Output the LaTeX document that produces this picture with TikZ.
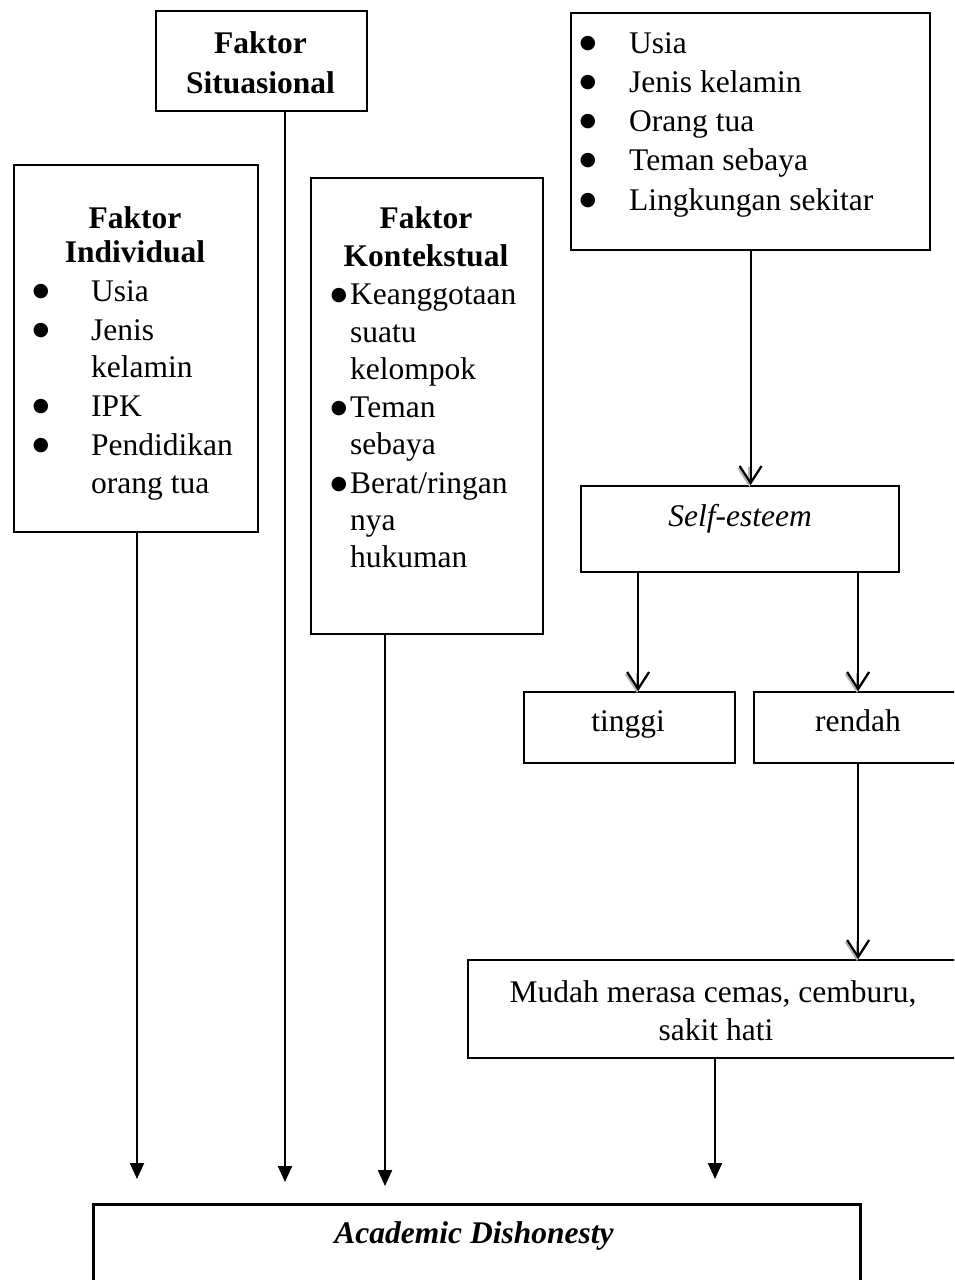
\documentclass[tikz,border=0pt]{standalone}
\usepackage{fontspec}
\setmainfont{Liberation Serif}
\newfontfamily\bulfont{DejaVu Sans}
\usetikzlibrary{arrows.meta}
\begin{document}
\begin{tikzpicture}[x=1pt,y=-1pt,
  box/.style={draw,line width=2.2pt,inner sep=0pt,anchor=north west},
  txt/.style={inner sep=0pt,font=\fontsize{31.5}{38}\selectfont},
  bul/.style={inner sep=0pt,anchor=center,font=\bulfont\fontsize{19}{20}\selectfont},
  conn/.style={line width=2.2pt},
  filltip/.style={conn,-{Triangle[length=16pt,width=14pt]}},
  opentip/.style={conn,-{Straight Barb[length=17pt,width=22pt]}},
  shadowtip/.style={opentip,black!30,transform canvas={shift={(-1.2pt,-2pt)}}}]
\useasboundingbox (0,0) rectangle (954,1280);
\clip (0,0) rectangle (954,1280);
% boxes
\node[box,minimum width=211pt,minimum height=100pt] (sit) at (155,10) {};
\node[box,minimum width=244pt,minimum height=367pt] (ind) at (13,164) {};
\node[box,minimum width=232pt,minimum height=456pt] (kon) at (310,177) {};
\node[box,minimum width=359pt,minimum height=237pt] (tr) at (570,12) {};
\node[box,minimum width=318pt,minimum height=86pt] (se) at (580,485) {};
\node[box,minimum width=211pt,minimum height=71pt] (ti) at (523,691) {};
\node[box,minimum width=215pt,minimum height=71pt] (re) at (753,691) {};
\node[box,minimum width=500pt,minimum height=98pt] (mu) at (467,959) {};
\node[box,line width=2.6pt,minimum width=767pt,minimum height=120pt] (ad) at (92,1203) {};
% texts
\node[txt,anchor=base,font=\fontsize{31.5}{38}\selectfont\bfseries] (sit1) at (260.5,53) {Faktor};
\node[txt,anchor=base,font=\fontsize{31.5}{38}\selectfont\bfseries] (sit2) at (260.5,93) {Situasional};
\node[txt,anchor=base,font=\fontsize{31.5}{38}\selectfont\bfseries] (ind1) at (135,228) {Faktor};
\node[txt,anchor=base,font=\fontsize{31.5}{38}\selectfont\bfseries] (ind2) at (135,262) {Individual};
\foreach \t/\y [count=\i] in {Usia/301,Jenis/340,kelamin/377,IPK/416,Pendidikan/455,orang tua/493}
  \node[txt,anchor=base west] (indt\i) at (91,\y) {\t};
\foreach \y [count=\i] in {301,340,416,455}
  \node[bul] (indb\i) at (41,\y-9) {●};
\node[txt,anchor=base,font=\fontsize{31.5}{38}\selectfont\bfseries] (kon1) at (426,228) {Faktor};
\node[txt,anchor=base,font=\fontsize{31.5}{38}\selectfont\bfseries] (kon2) at (426,266) {Kontekstual};
\foreach \t/\y [count=\i] in {Keanggotaan/304,suatu/342,kelompok/379,Teman/417,sebaya/454,{Berat/ringan}/493,nya/530,hukuman/567}
  \node[txt,anchor=base west] (kont\i) at (350,\y) {\t};
\foreach \y [count=\i] in {304,417,493}
  \node[bul] (konb\i) at (339,\y-8) {●};
\foreach \t/\y [count=\i] in {Usia/53,Jenis kelamin/92,Orang tua/131,Teman sebaya/170,Lingkungan sekitar/210}{
  \node[txt,anchor=base west] (trt\i) at (629,\y) {\t};
  \node[bul] (trb\i) at (588,\y-9) {●};}
\node[txt,anchor=base,font=\fontsize{31.5}{38}\selectfont\itshape] (set) at (740,526) {Self-esteem};
\node[txt,anchor=base] (tit) at (628,731) {tinggi};
\node[txt,anchor=base] (ret) at (858,731) {rendah};
\node[txt,anchor=base] (mut1) at (713,1002) {Mudah merasa cemas, cemburu,};
\node[txt,anchor=base] (mut2) at (716,1040) {sakit hati};
\node[txt,anchor=base,font=\fontsize{31.5}{38}\selectfont\bfseries\itshape] (adt) at (474,1243) {Academic Dishonesty};
% connector ends
\coordinate (e1) at (137,1179);
\coordinate (e2) at (285,1182);
\coordinate (e3) at (385,1186);
\coordinate (e4) at (715,1179);
% connectors
\draw[filltip] (ind.south -| e1) -- (e1);
\draw[filltip] (sit.south -| e2) -- (e2);
\draw[filltip] (kon.south -| e3) -- (e3);
\draw[filltip] (mu.south -| e4) -- (e4);
% shadows of open tips
\draw[shadowtip] ([yshift=20pt]tr.south |- se.north) -- (tr.south |- se.north);
\draw[shadowtip] ([xshift=-102pt,yshift=20pt]se.south |- ti.north) -- ([xshift=-102pt]se.south |- ti.north);
\draw[shadowtip] ([xshift=118pt,yshift=20pt]se.south |- re.north) -- ([xshift=118pt]se.south |- re.north);
\draw[shadowtip] ([xshift=-3.5pt,yshift=20pt]re.south |- mu.north) -- ([xshift=-3.5pt]re.south |- mu.north);
% open-tip connectors
\draw[opentip] (tr.south) -- (tr.south |- se.north);
\draw[opentip] ([xshift=-102pt]se.south) -- ([xshift=-102pt]se.south |- ti.north);
\draw[opentip] ([xshift=118pt]se.south) -- ([xshift=118pt]se.south |- re.north);
\draw[opentip] ([xshift=-3.5pt]re.south) -- ([xshift=-3.5pt]re.south |- mu.north);
\end{tikzpicture}
\end{document}
